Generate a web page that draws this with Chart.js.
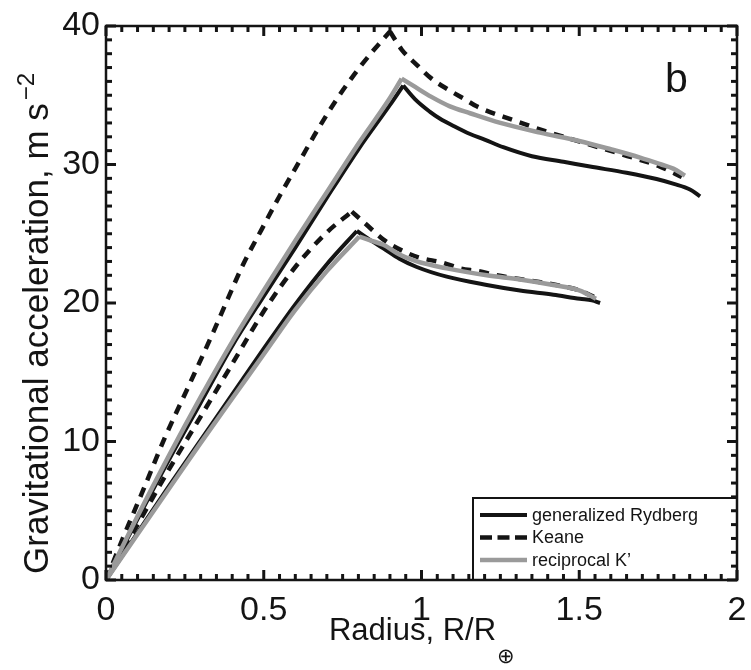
<!DOCTYPE html>
<html>
<head>
<meta charset="utf-8">
<script src="https://cdn.jsdelivr.net/npm/chart.js@4.4.1/dist/chart.umd.min.js"></script>
<style>
  html, body { margin: 0; padding: 0; background: #fff; }
  #wrap { width: 751px; height: 670px; }
</style>
</head>
<body>
<div id="wrap"><canvas id="gravChart" width="751" height="670"></canvas></div>
<script>
// ============================================
// DATA - x: R/R_earth, y: m s^-2
// ============================================

// generalized Rydberg, larger planet
const rydUpX = [0, 0.1, 0.2, 0.3, 0.4, 0.5, 0.6, 0.7, 0.8, 0.9, 0.942, 0.98, 1.027, 1.059, 1.1, 1.154, 1.2, 1.259, 1.35, 1.45, 1.534, 1.65, 1.745, 1.8, 1.851, 1.883];
const rydUpY = [0, 4.4, 8.7, 12.8, 16.9, 20.5, 24.0, 27.6, 31.1, 34.3, 35.7, 34.7, 33.8, 33.3, 32.8, 32.2, 31.8, 31.25, 30.6, 30.2, 29.85, 29.4, 28.95, 28.6, 28.2, 27.7];
// generalized Rydberg, smaller planet
const rydLoX = [0, 0.1, 0.2, 0.3, 0.4, 0.5, 0.6, 0.7, 0.795, 0.84, 0.879, 0.93, 0.985, 1.08, 1.207, 1.312, 1.418, 1.502, 1.54, 1.566];
const rydLoY = [0, 3.4, 6.8, 10.1, 13.4, 16.7, 19.9, 22.8, 25.2, 24.5, 23.95, 23.2, 22.6, 21.9, 21.3, 20.9, 20.6, 20.3, 20.2, 20.0];

// Keane
const keaUpX = [0, 0.055, 0.118, 0.187, 0.266, 0.34, 0.388, 0.435, 0.493, 0.552, 0.615, 0.668, 0.731, 0.8, 0.85, 0.9, 0.937, 0.985, 1.032, 1.085, 1.138, 1.175, 1.291, 1.407, 1.524, 1.64, 1.756, 1.825];
const keaUpY = [0, 3.1, 6.5, 10.3, 14.2, 17.9, 20.4, 22.8, 25.3, 27.8, 30.3, 32.4, 34.7, 36.9, 38.3, 39.6, 38.3, 37.2, 36.2, 35.4, 34.7, 34.2, 33.2, 32.3, 31.5, 30.7, 29.85, 29.1];
const keaLoX = [0, 0.1, 0.2, 0.3, 0.4, 0.5, 0.6, 0.7, 0.779, 0.821, 0.884, 0.937, 0.99, 1.069, 1.122, 1.18, 1.238, 1.35, 1.45, 1.502, 1.55];
const keaLoY = [0, 4.0, 8.0, 11.8, 15.6, 19.4, 22.6, 25.1, 26.6, 25.75, 24.5, 23.8, 23.3, 22.9, 22.5, 22.3, 22.0, 21.6, 21.2, 20.9, 20.4];

// reciprocal K'
const recUpX = [0, 0.1, 0.2, 0.3, 0.4, 0.5, 0.6, 0.7, 0.8, 0.9, 0.937, 0.98, 1.03, 1.09, 1.154, 1.25, 1.376, 1.5, 1.6, 1.693, 1.76, 1.798, 1.835];
const recUpY = [0, 4.6, 9.0, 13.2, 17.2, 20.9, 24.5, 28.0, 31.5, 34.8, 36.2, 35.6, 34.9, 34.2, 33.7, 33.0, 32.3, 31.7, 31.1, 30.5, 30.0, 29.7, 29.2];
const recLoX = [0, 0.1, 0.2, 0.3, 0.4, 0.5, 0.6, 0.7, 0.803, 0.84, 0.879, 0.93, 0.985, 1.08, 1.207, 1.312, 1.418, 1.502, 1.553];
const recLoY = [0, 3.3, 6.6, 9.9, 13.1, 16.3, 19.5, 22.3, 24.8, 24.5, 24.2, 23.5, 23.0, 22.5, 22.0, 21.7, 21.3, 20.9, 20.3];

// axes / text
const xTicks = [0, 0.5, 1, 1.5, 2];
const yTicks = [0, 10, 20, 30, 40];
const minorPerMajor = 10;
const seriesNames = ['generalized Rydberg', 'Keane', 'reciprocal K\u2019'];
const panelLabel = 'b';
const xTitle = 'Radius, R/R';
const xTitleSub = '\u2295';
const yTitle = 'Gravitational acceleration, m s';
const yTitleSup = '\u22122';

// ============================================
// STYLE
// ============================================
const INK = '#141414';
const GREY = '#9a9a9a';
const FONT = "'Liberation Sans', Arial, Helvetica, sans-serif";
const KEANE_DASH = [10, 8];

Chart.defaults.font.family = FONT;
Chart.defaults.color = INK;

function pts(xs, ys) {
    return xs.map((x, i) => ({ x: x, y: ys[i] }));
}

// split a curve at its peak so each side can be smoothed without rounding the cusp
function curveParts(label, xs, ys, color, dash, width, order) {
    const k = ys.indexOf(Math.max(...ys));
    const base = {
        label: label,
        showLine: true,
        borderColor: color,
        borderWidth: width,
        borderDash: dash,
        borderCapStyle: 'butt',
        borderJoinStyle: 'miter',
        pointRadius: 0,
        cubicInterpolationMode: 'monotone',
        fill: false,
        order: order
    };
    return [
        Object.assign({}, base, { data: pts(xs.slice(0, k + 1), ys.slice(0, k + 1)) }),
        Object.assign({}, base, { data: pts(xs.slice(k), ys.slice(k)) })
    ];
}

// major + minor tick values between consecutive major ticks
function tickValues(majors) {
    const out = [];
    for (let j = 0; j < majors.length - 1; j++) {
        const step = (majors[j + 1] - majors[j]) / minorPerMajor;
        for (let i = 0; i < minorPerMajor; i++) {
            out.push({ v: majors[j] + i * step, major: i === 0 });
        }
    }
    out.push({ v: majors[majors.length - 1], major: true });
    return out;
}

// ============================================
// FRAME, INWARD TICKS, LEGEND, TITLES
// ============================================
const matlabDecor = {
    id: 'matlabDecor',
    afterDraw(chart) {
        const ctx = chart.ctx;
        const a = chart.chartArea;
        const sx = chart.scales.x;
        const sy = chart.scales.y;
        ctx.save();
        ctx.setLineDash([]);
        ctx.lineCap = 'butt';

        // legend box (bottom right, inside axes)
        const legendStyles = [
            { color: INK, width: 4, dash: [] },
            { color: INK, width: 4.5, dash: [12, 5.5] },
            { color: GREY, width: 4.5, dash: [] }
        ];
        const boxW = 264, boxH = 82;
        const bx = a.right - boxW, by = a.bottom - boxH;
        ctx.fillStyle = '#fff';
        ctx.fillRect(bx, by, boxW, boxH);
        ctx.strokeStyle = INK;
        ctx.lineWidth = 2;
        ctx.strokeRect(bx, by, boxW, boxH);
        ctx.font = '18px ' + FONT;
        ctx.textBaseline = 'middle';
        ctx.textAlign = 'left';
        legendStyles.forEach((st, i) => {
            const ry = by + 17 + i * 22.5;
            ctx.beginPath();
            ctx.strokeStyle = st.color;
            ctx.lineWidth = st.width;
            ctx.setLineDash(st.dash);
            ctx.moveTo(bx + 7, ry);
            ctx.lineTo(bx + 54, ry);
            ctx.stroke();
            ctx.setLineDash([]);
            ctx.fillStyle = INK;
            ctx.fillText(seriesNames[i], bx + 59, ry + 1);
        });

        // frame
        ctx.strokeStyle = INK;
        ctx.lineWidth = 2.5;
        ctx.strokeRect(a.left, a.top, a.right - a.left, a.bottom - a.top);

        // inward ticks on all four sides
        ctx.fillStyle = INK;
        tickValues(xTicks).forEach(t => {
            const px = sx.getPixelForValue(t.v);
            const len = t.major ? 10 : 6;
            ctx.fillRect(px - 1.5, a.bottom - len, 3, len);
            ctx.fillRect(px - 1.5, a.top, 3, len);
        });
        tickValues(yTicks).forEach(t => {
            const py = sy.getPixelForValue(t.v);
            const len = t.major ? 10 : 6;
            ctx.fillRect(a.left, py - 1.5, len, 3);
            ctx.fillRect(a.right - len, py - 1.5, len, 3);
        });

        // panel letter
        ctx.fillStyle = INK;
        ctx.font = '41px ' + FONT;
        ctx.textBaseline = 'alphabetic';
        ctx.fillText(panelLabel, a.right - 72, a.top + 66);

        // x title with subscript
        ctx.font = '31px ' + FONT;
        const wMain = ctx.measureText(xTitle).width;
        ctx.font = '21px ' + FONT;
        const wSub = ctx.measureText(xTitleSub).width;
        const x0 = (a.left + a.right) / 2 - (wMain + wSub) / 2;
        ctx.font = '31px ' + FONT;
        ctx.fillText(xTitle, x0, 640);
        ctx.font = '21px ' + FONT;
        ctx.fillText(xTitleSub, x0 + wMain + 1, 663);

        // y title with superscript (rotated)
        ctx.translate(48, 574);
        ctx.rotate(-Math.PI / 2);
        ctx.font = '35px ' + FONT;
        const wy = ctx.measureText(yTitle).width;
        ctx.fillText(yTitle, 0, 0);
        ctx.font = '24px ' + FONT;
        ctx.fillText(yTitleSup, wy + 3, -14);
        ctx.restore();
    }
};

// ============================================
// CHART
// ============================================
new Chart(document.getElementById('gravChart'), {
    type: 'scatter',
    data: {
        datasets: [
            ...curveParts(seriesNames[0], rydUpX, rydUpY, INK, [], 4, 2),
            ...curveParts(seriesNames[0], rydLoX, rydLoY, INK, [], 4, 2),
            ...curveParts(seriesNames[1], keaUpX, keaUpY, INK, KEANE_DASH, 4.5, 1),
            ...curveParts(seriesNames[1], keaLoX, keaLoY, INK, KEANE_DASH, 4.5, 1),
            ...curveParts(seriesNames[2], recUpX, recUpY, GREY, [], 4.5, 0),
            ...curveParts(seriesNames[2], recLoX, recLoY, GREY, [], 4.5, 0)
        ]
    },
    options: {
        responsive: false,
        animation: false,
        devicePixelRatio: 1,
        layout: { padding: { left: 0, top: 26, right: 14, bottom: 0 } },
        plugins: {
            legend: { display: false },
            tooltip: { enabled: false }
        },
        scales: {
            x: {
                type: 'linear',
                min: 0,
                max: 2,
                afterBuildTicks: s => { s.ticks = xTicks.map(v => ({ value: v })); },
                ticks: {
                    font: { size: 34 },
                    color: INK,
                    padding: 10,
                    maxRotation: 0,
                    autoSkip: false,
                    callback: v => String(v)
                },
                grid: { display: false, drawTicks: false },
                border: { display: false },
                afterFit: s => { s.height = 90; s.paddingLeft = 0; s.paddingRight = 0; }
            },
            y: {
                type: 'linear',
                min: 0,
                max: 40,
                afterBuildTicks: s => { s.ticks = yTicks.map(v => ({ value: v })); },
                ticks: {
                    font: { size: 34 },
                    color: INK,
                    padding: 6,
                    autoSkip: false,
                    callback: v => String(v)
                },
                grid: { display: false, drawTicks: false },
                border: { display: false },
                afterFit: s => { s.width = 106; s.paddingTop = 0; s.paddingBottom = 0; }
            }
        }
    },
    plugins: [matlabDecor]
});
</script>
</body>
</html>
